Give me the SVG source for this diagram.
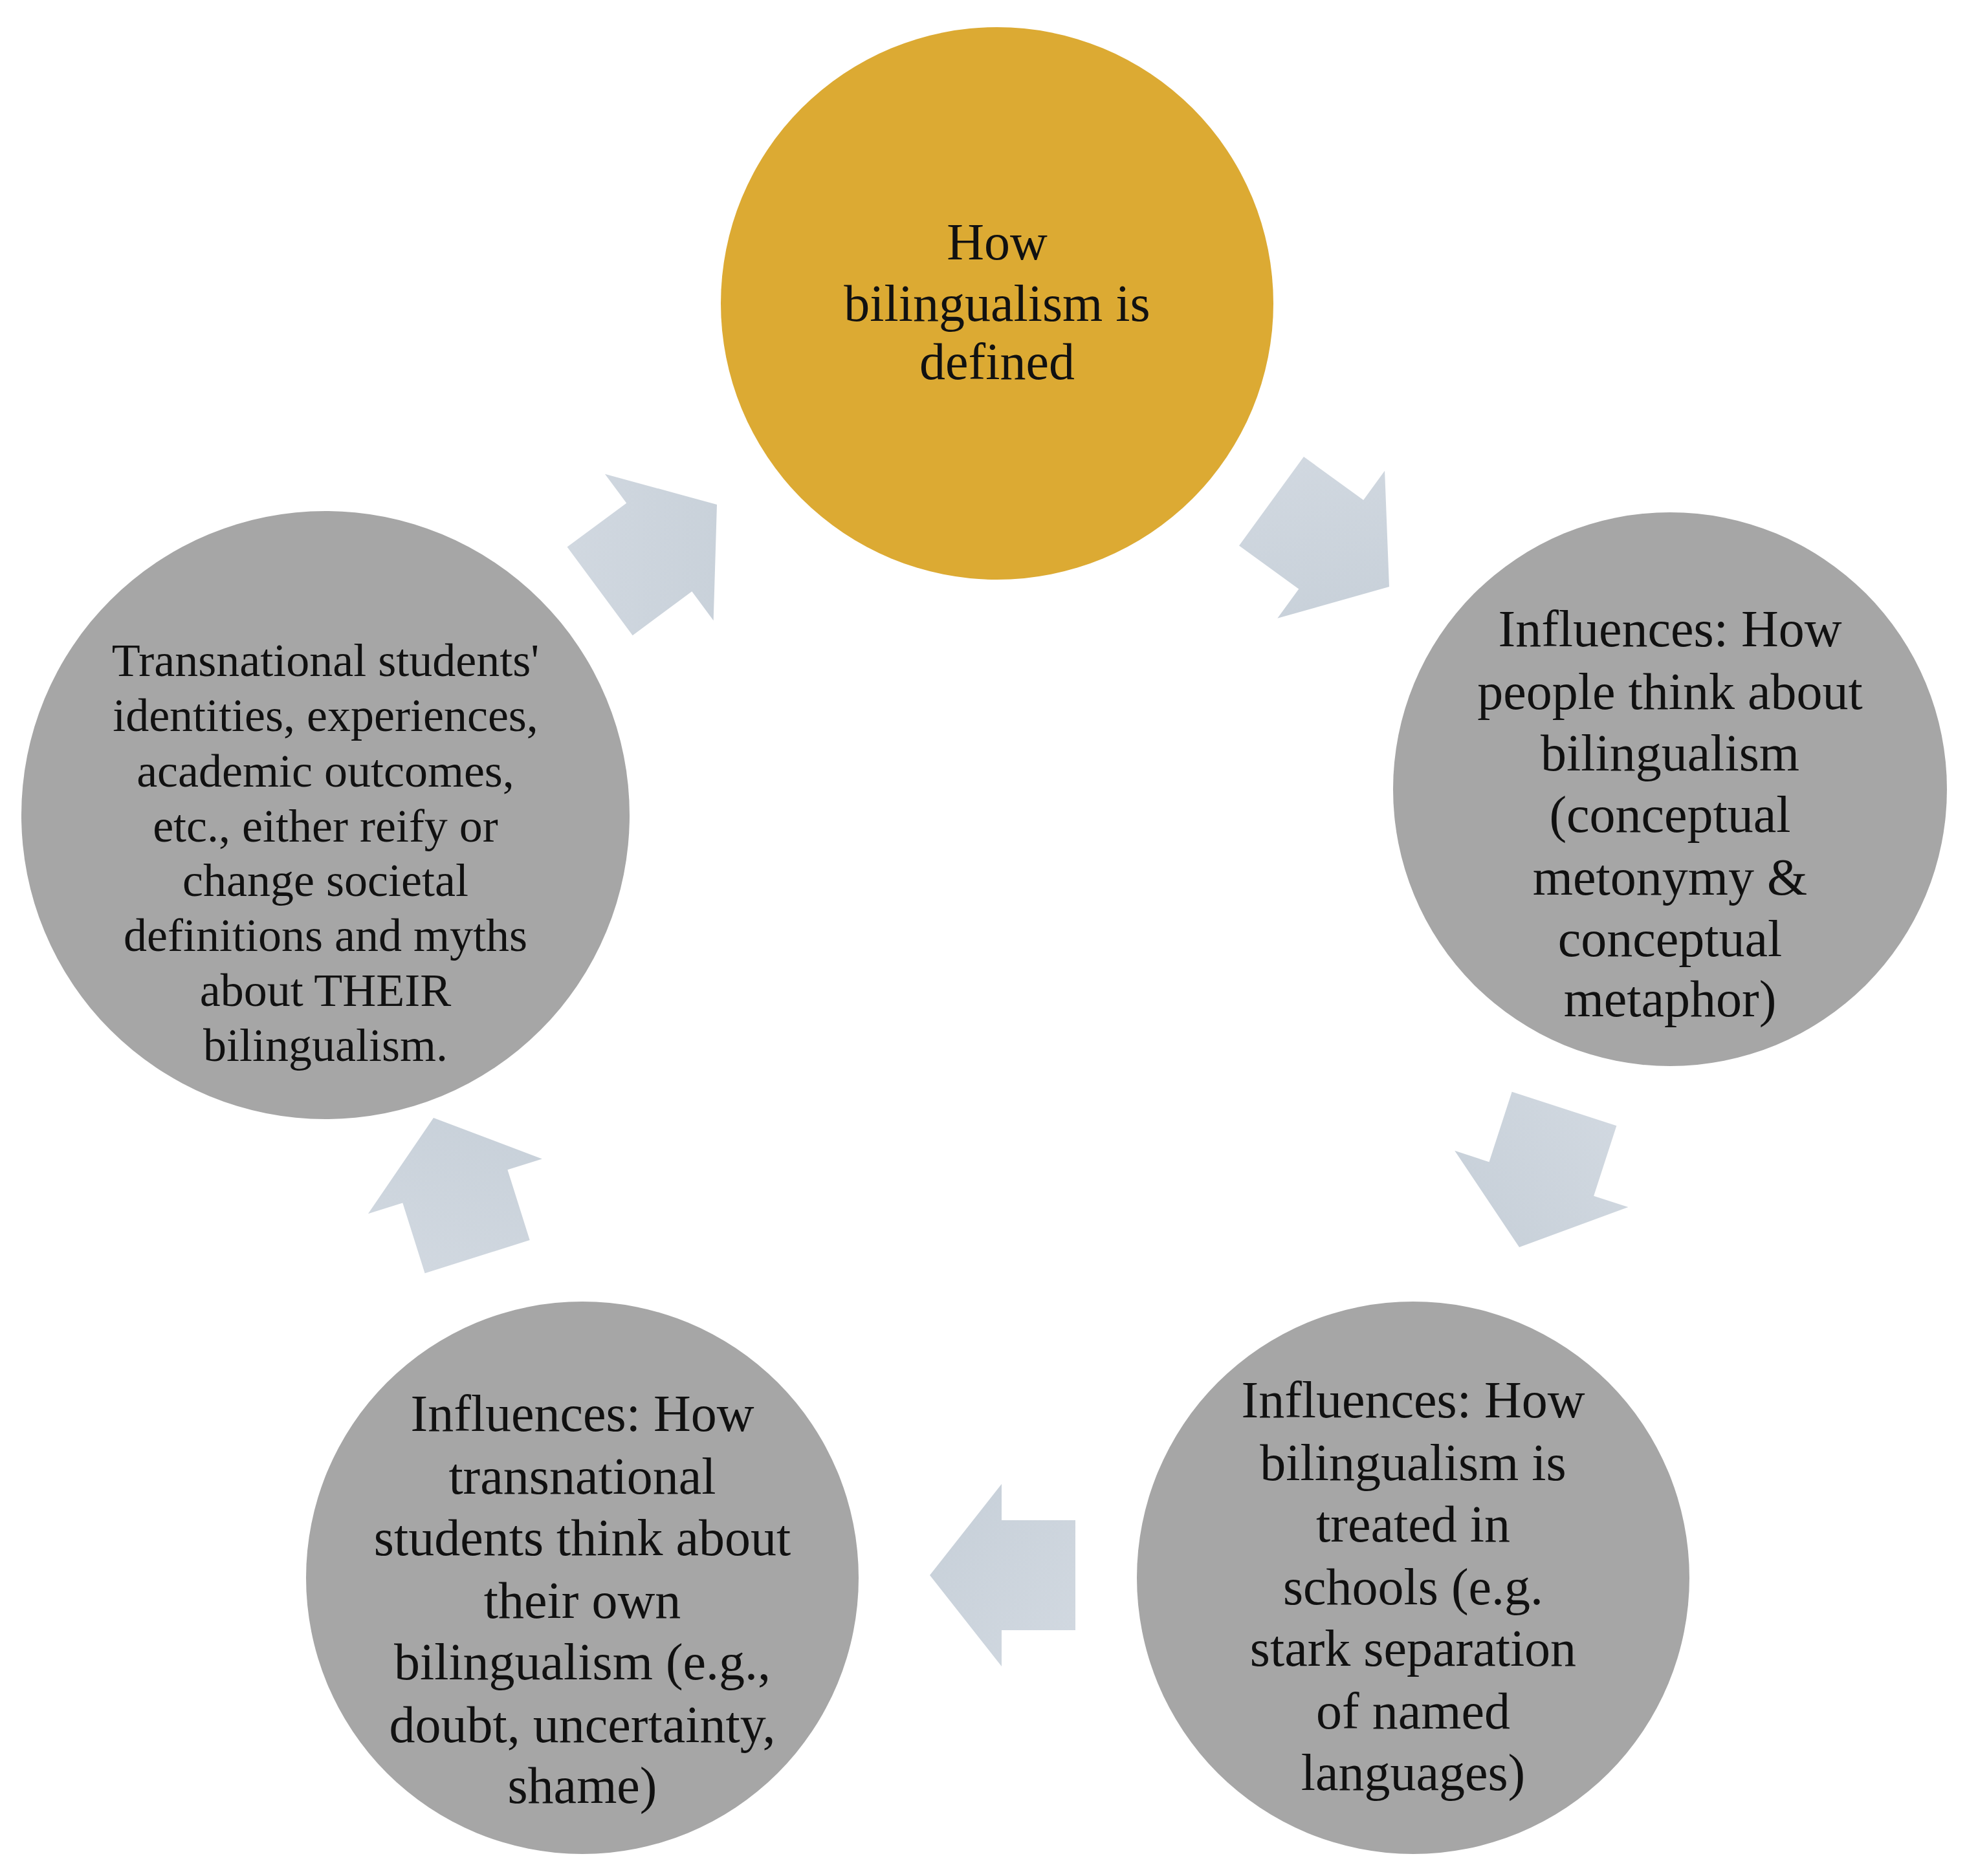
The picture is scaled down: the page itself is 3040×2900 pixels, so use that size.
<svg xmlns="http://www.w3.org/2000/svg" width="3040" height="2900" viewBox="0 0 3040 2900">
<style>
.t{font-family:"Liberation Serif","Times New Roman",serif;font-size:80px;fill:#111;text-anchor:middle}
.s{font-size:72px}
.g{fill:#a6a6a6}
.a{fill:url(#ag)}
</style>
<defs>
<linearGradient id="ag" x1="0" y1="0" x2="1" y2="1"><stop offset="0" stop-color="#d2d9e1"/><stop offset="1" stop-color="#c6cfd8"/></linearGradient>
<polygon id="arr" points="0,0 -111,-141 -111,-85 -225,-85 -225,85 -111,85 -111,141"/>
</defs>
<rect width="3040" height="2900" fill="#fff"/>
<g id="connectors">
<use href="#arr" class="a" transform="translate(2147,907) rotate(36)"/>
<use href="#arr" class="a" transform="translate(2348,1928) rotate(108)"/>
<use href="#arr" class="a" transform="translate(1437,2435) rotate(180)"/>
<use href="#arr" class="a" transform="translate(670,1728) rotate(252.5)"/>
<use href="#arr" class="a" transform="translate(1108,780) rotate(-36.5)"/>
</g>
<g id="n1"><circle cx="1541" cy="469" r="427" fill="#dcaa33"/>
<text class="t" x="1541"><tspan x="1541" y="401">How</tspan><tspan x="1541" y="496">bilingualism  is</tspan><tspan x="1541" y="586">defined</tspan></text></g>
<g id="n2"><circle class="g" cx="2581" cy="1220" r="428"/>
<text class="t"><tspan x="2581" y="999">Influences: How</tspan><tspan x="2581" y="1096">people  think about</tspan><tspan x="2581" y="1191">bilingualism</tspan><tspan x="2581" y="1286">(conceptual</tspan><tspan x="2581" y="1383">metonymy  &amp;</tspan><tspan x="2581" y="1478">conceptual</tspan><tspan x="2581" y="1571">metaphor)</tspan></text></g>
<g id="n3"><circle class="g" cx="2184" cy="2439" r="427"/>
<text class="t"><tspan x="2184" y="2191">Influences: How</tspan><tspan x="2184" y="2288">bilingualism  is</tspan><tspan x="2184" y="2383">treated in</tspan><tspan x="2184" y="2480">schools (e.g.</tspan><tspan x="2184" y="2575">stark separation</tspan><tspan x="2184" y="2672">of named</tspan><tspan x="2184" y="2767">languages)</tspan></text></g>
<g id="n4"><circle class="g" cx="900" cy="2439" r="427"/>
<text class="t"><tspan x="900" y="2212">Influences: How</tspan><tspan x="900" y="2309">transnational</tspan><tspan x="900" y="2404">students think about</tspan><tspan x="900" y="2501">their own</tspan><tspan x="900" y="2596">bilingualism  (e.g.,</tspan><tspan x="900" y="2693">doubt, uncertainty,</tspan><tspan x="900" y="2787">shame)</tspan></text></g>
<g id="n5"><circle class="g" cx="503" cy="1260" r="470"/>
<text class="t s"><tspan x="503" y="1045">Transnational students'</tspan><tspan x="503" y="1130">identities, experiences,</tspan><tspan x="503" y="1216">academic outcomes,</tspan><tspan x="503" y="1301">etc., either reify or</tspan><tspan x="503" y="1385">change societal</tspan><tspan x="503" y="1470">definitions and myths</tspan><tspan x="503" y="1555">about THEIR</tspan><tspan x="503" y="1640">bilingualism.</tspan></text></g>
</svg>
